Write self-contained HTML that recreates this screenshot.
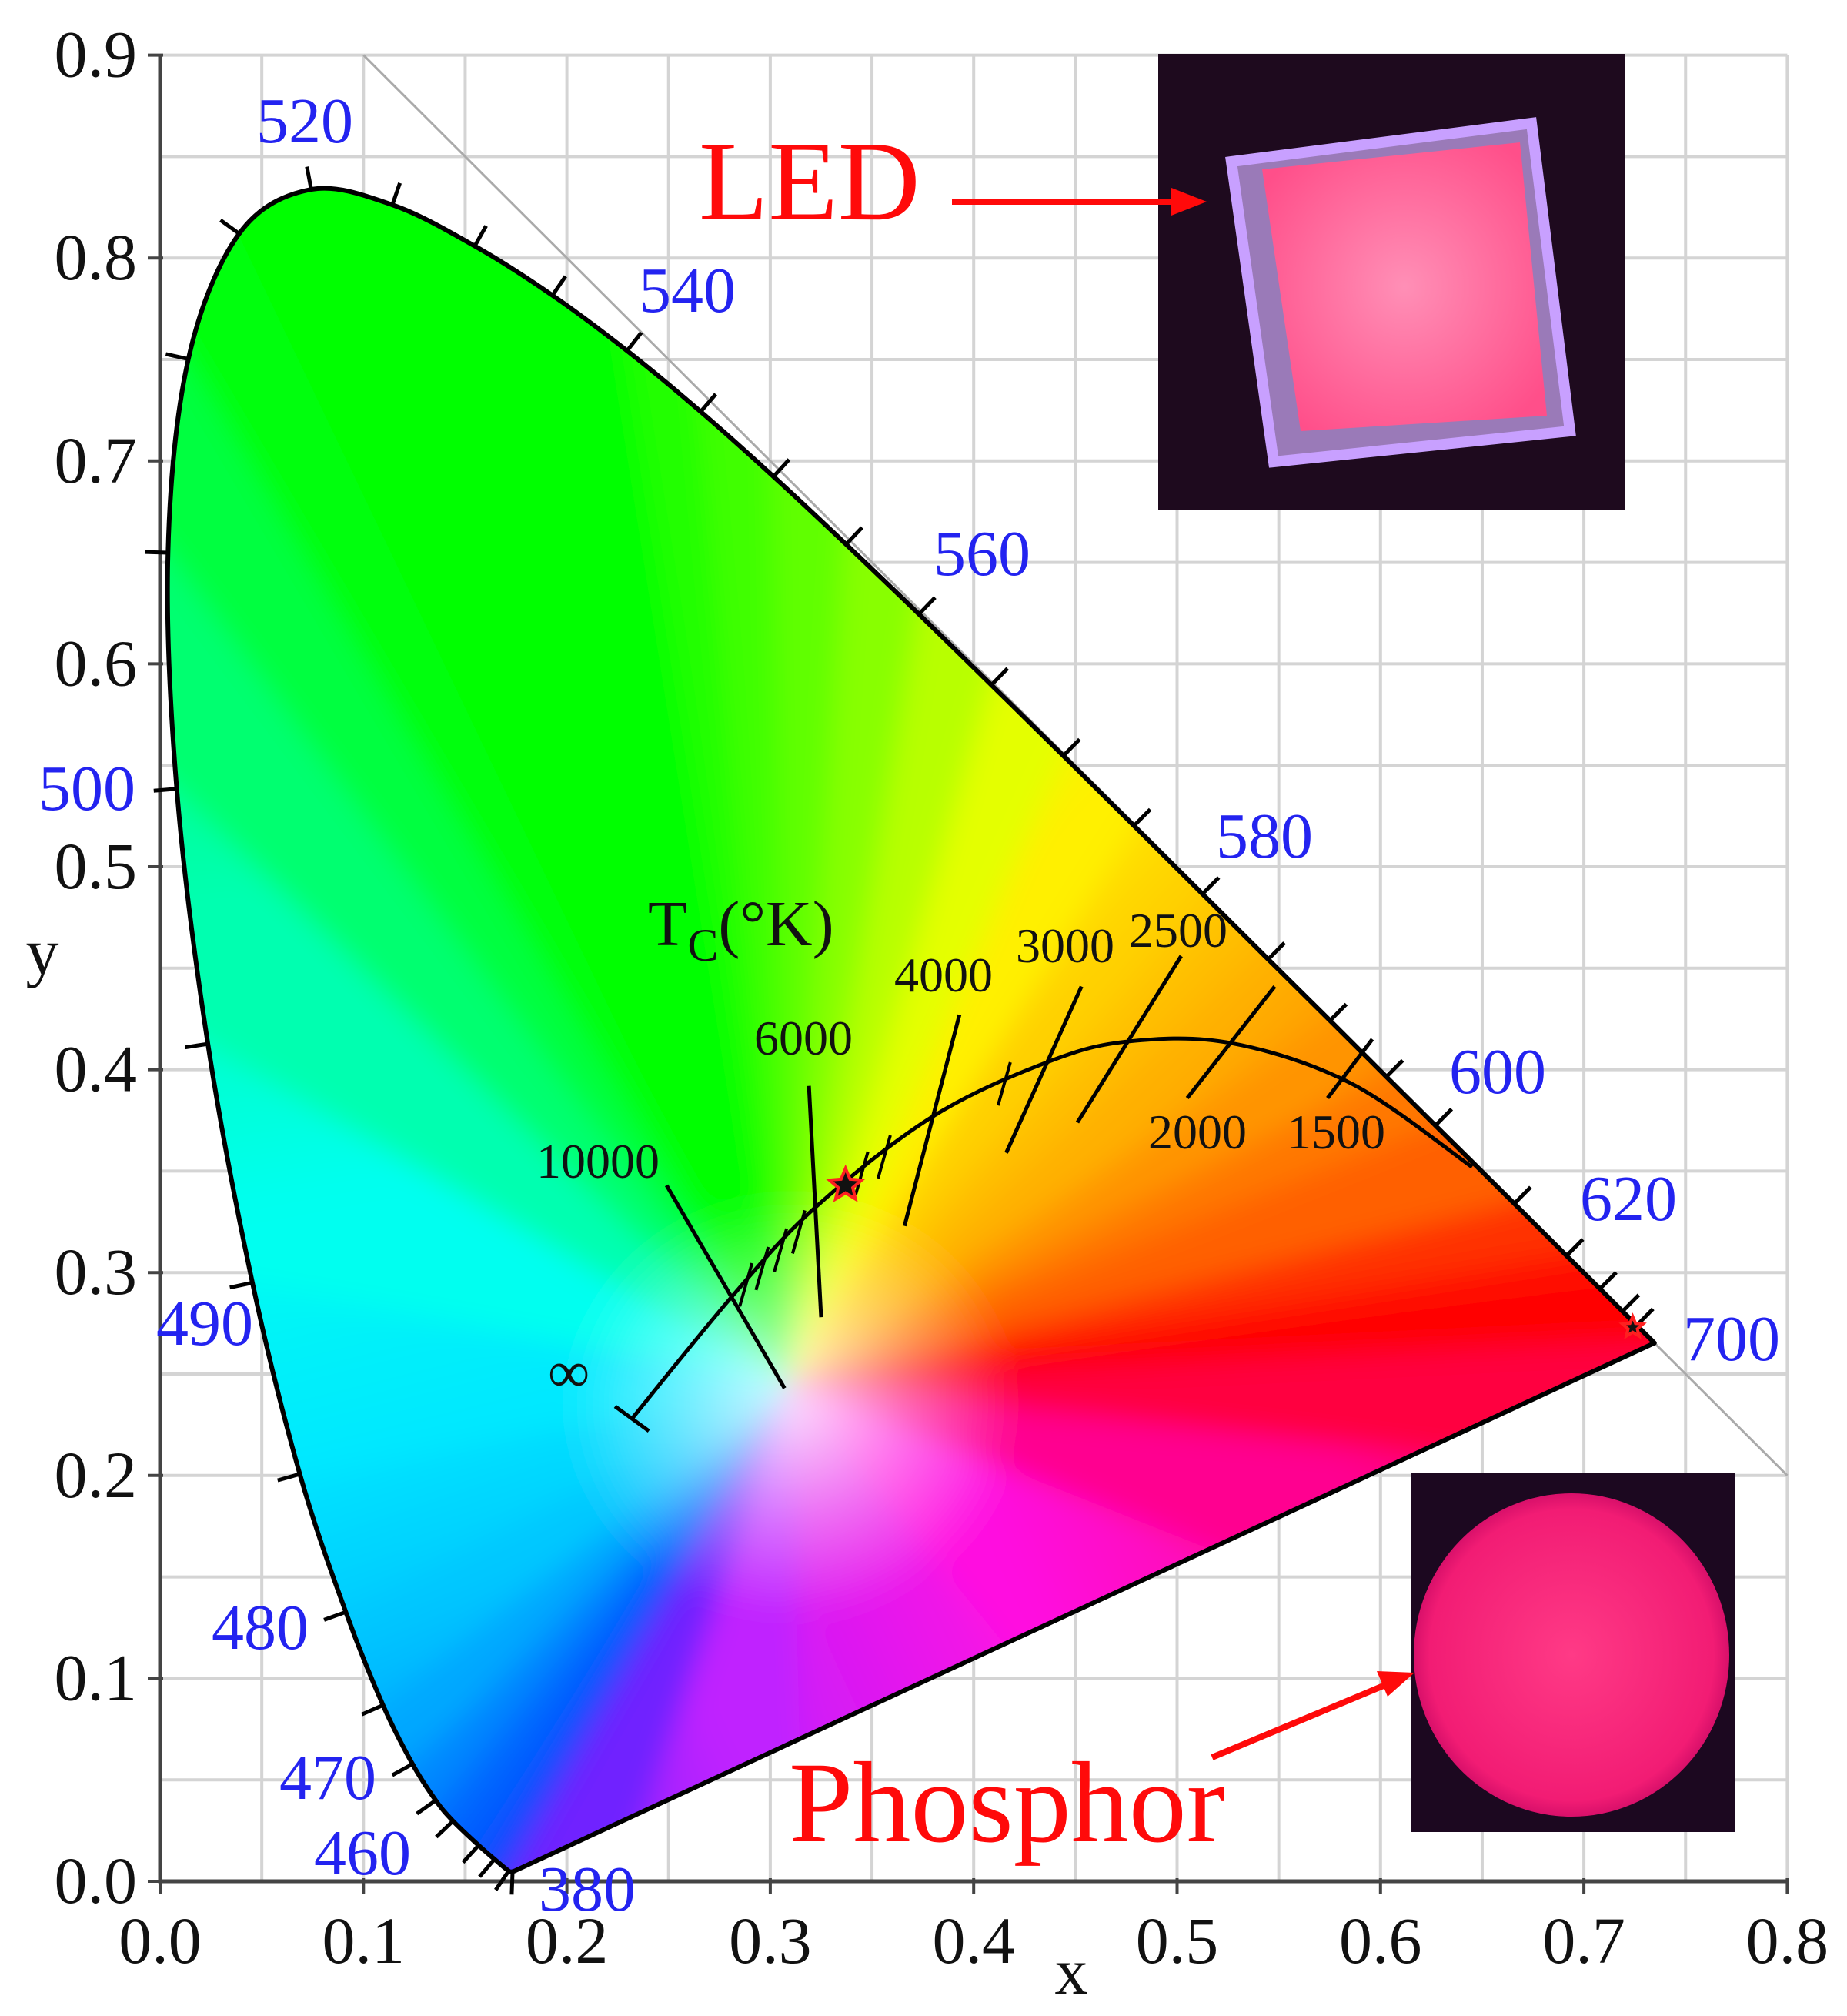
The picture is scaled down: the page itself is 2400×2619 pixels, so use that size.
<!DOCTYPE html>
<html><head><meta charset="utf-8"><style>
html,body{margin:0;padding:0;background:#fff;}
svg{display:block;}
text{font-family:"Liberation Serif",serif;}
</style></head><body>
<svg id="chart" width="2400" height="2619" viewBox="0 0 2400 2619" xmlns="http://www.w3.org/2000/svg">
<defs>
<radialGradient id="whiteGlow" cx="0.5" cy="0.5" r="0.5">
<stop offset="0" stop-color="#fff" stop-opacity="0.85"/>
<stop offset="0.5" stop-color="#fff" stop-opacity="0.4"/>
<stop offset="1" stop-color="#fff" stop-opacity="0"/>
</radialGradient>
<radialGradient id="phGrad" cx="0.5" cy="0.5" r="0.5">
<stop offset="0" stop-color="#ff3a86"/><stop offset="0.9" stop-color="#f21c74"/><stop offset="1" stop-color="#d8106a"/>
</radialGradient>
<radialGradient id="ledGrad" cx="0.5" cy="0.5" r="0.6">
<stop offset="0" stop-color="#ff8fb6"/><stop offset="1" stop-color="#ff4f8a"/>
</radialGradient>
<filter id="soft" x="-10%" y="-10%" width="120%" height="120%"><feGaussianBlur stdDeviation="18"/></filter>
<clipPath id="locusClip"><path id="clipPath"/></clipPath>
</defs>
<g id="grid"></g>
<g clip-path="url(#locusClip)"><g id="gamut" filter="url(#soft)"></g></g>
<g id="overlay"></g>
</svg>
<script>
const NS='http://www.w3.org/2000/svg';
const xTicks=[0.0,0.1,0.2,0.3,0.4,0.5,0.6,0.7,0.8];
const yTicks=[0.0,0.1,0.2,0.3,0.4,0.5,0.6,0.7,0.8,0.9];
const locusNm=[380,400,420,440,450,460,465,470,475,480,485,490,495,500,505,510,515,520,525,530,535,540,545,550,555,560,565,570,575,580,585,590,595,600,610,620,630,640,650,700];
const locusX=[0.1741,0.1733,0.1714,0.1644,0.1566,0.1440,0.1355,0.1241,0.1096,0.0913,0.0687,0.0454,0.0235,0.0082,0.0039,0.0139,0.0389,0.0743,0.1142,0.1547,0.1929,0.2296,0.2658,0.3016,0.3373,0.3731,0.4087,0.4441,0.4788,0.5125,0.5448,0.5752,0.6029,0.6270,0.6658,0.6915,0.7079,0.7190,0.7260,0.7347];
const locusY=[0.0050,0.0048,0.0051,0.0109,0.0177,0.0297,0.0399,0.0578,0.0868,0.1327,0.2007,0.2950,0.4127,0.5384,0.6548,0.7502,0.8120,0.8338,0.8262,0.8059,0.7816,0.7543,0.7243,0.6923,0.6589,0.6245,0.5896,0.5547,0.5202,0.4866,0.4544,0.4242,0.3965,0.3725,0.3340,0.3083,0.2920,0.2809,0.2740,0.2653];
const waveLabels=['520','540','560','580','600','620','700','500','490','480','470','460','380'];
const waveLabelX=[333,830,1213,1580,1883,2053,2187,50,203,275,363,408,700];
const waveLabelY=[185,405,747,1114,1420,1585,1767,1052,1747,2142,2337,2435,2482];
const planckT=['∞','10000','6000','4000','3000','2500','2000','1500','1000'];
const planckX=[0.232,0.281,0.322,0.380,0.437,0.477,0.527,0.586,0.645];
const planckY=[0.228,0.288,0.332,0.377,0.404,0.414,0.413,0.393,0.352];
const isoX1=[0.249,0.319,0.393,0.453,0.502,0.548,0.596];
const isoY1=[0.343,0.392,0.427,0.441,0.456,0.441,0.415];
const isoX2=[0.307,0.325,0.366,0.416,0.451,0.505,0.574];
const isoY2=[0.243,0.278,0.323,0.359,0.374,0.386,0.386];
const isoLabels=['10000','6000','4000','3000','2500','2000','1500'];
const isoLabelX=[697,980,1162,1320,1467,1492,1672];
const isoLabelY=[1530,1370,1288,1250,1230,1492,1492];
const starX=[0.337,0.724];
const starY=[0.343,0.273];

const X=v=>208+v*2643, Y=v=>2444-v*2636;
function el(tag,attrs,parent){const e=document.createElementNS(NS,tag);for(const k in attrs)e.setAttribute(k,attrs[k]);parent.appendChild(e);return e;}
const svg=document.getElementById('chart');
const grid=document.getElementById('grid'), gamut=document.getElementById('gamut'), ov=document.getElementById('overlay');

for(let i=1;i<=16;i++){const v=i*0.05;const l=el('line',{x1:X(v),x2:X(v),y1:Y(0),y2:Y(0.9),stroke:'#d4d4d4','stroke-width':4},grid);

}
for(let i=1;i<=18;i++){const v=i*0.05;const l=el('line',{x1:X(0),x2:X(0.8),y1:Y(v),y2:Y(v),stroke:'#d4d4d4','stroke-width':4},grid);

}
const diag=el('line',{x1:X(0.1),y1:Y(0.9),x2:X(0.8),y2:Y(0.2),stroke:'#aaa','stroke-width':3},grid);



function smooth(xs,ys){let s=`M${X(xs[0])} ${Y(ys[0])}`;const n=xs.length;for(let i=0;i<n-1;i++){const a=Math.max(i-1,0),b=Math.min(i+2,n-1);const p0=[X(xs[a]),Y(ys[a])],p1=[X(xs[i]),Y(ys[i])],p2=[X(xs[i+1]),Y(ys[i+1])],p3=[X(xs[b]),Y(ys[b])];
 s+=`C${p1[0]+(p2[0]-p0[0])/6} ${p1[1]+(p2[1]-p0[1])/6} ${p2[0]-(p3[0]-p1[0])/6} ${p2[1]-(p3[1]-p1[1])/6} ${p2[0]} ${p2[1]}`;}return s;}
const d=smooth(locusX,locusY)+'Z';
document.getElementById('clipPath').setAttribute('d',d);

const colMap={380:'#5a20ff',400:'#4a28ff',420:'#3a30ff',440:'#2040ff',450:'#1050ff',460:'#0060ff',465:'#0070ff',470:'#0088ff',475:'#00a8ff',480:'#00c8ff',485:'#00e8ff',490:'#00fff0',495:'#00ffb0',500:'#00ff70',505:'#00ff40',510:'#00ff10',515:'#00ff00',540:'#00ff00',545:'#20ff00',550:'#40ff00',555:'#60ff00',560:'#88ff00',565:'#b8ff00',570:'#e4ff00',575:'#fff000',580:'#ffd000',585:'#ffb000',590:'#ff9400',595:'#ff7800',600:'#ff6000',610:'#ff3000',620:'#ff1000',630:'#ff0000',700:'#ff0000'};
function colOf(nm){let k=Object.keys(colMap).map(Number).sort((a,b)=>a-b);let c=k[0];for(const kk of k){if(kk<=nm)c=kk;}return colMap[c];}
const ptsX=locusX.slice(), ptsY=locusY.slice(), cols=locusNm.map(colOf);
const purpT=[0.15,0.35,0.55,0.75,0.9], purpC=['#ff0040','#ff0090','#ff10e0','#c020ff','#7020ff'];
purpT.forEach((t,i)=>{ptsX.push(0.7347+(0.1741-0.7347)*t);ptsY.push(0.2653+(0.005-0.2653)*t-0.02);cols.push(purpC[i]);});
const cx=X(0.31), cy=Y(0.245);
const gdefs=svg.querySelector('defs');
for(let i=0;i<ptsX.length;i++){const j=(i+1)%ptsX.length;
 const x1=X(ptsX[i]),y1=Y(ptsY[i]),x2=X(ptsX[j]),y2=Y(ptsY[j]);
 const ex=(x,y)=>[cx+(x-cx)*1.35,cy+(y-cy)*1.35];
 const a=ex(x1,y1),b=ex(x2,y2);
 const gid='lg'+i;const lg=el('linearGradient',{id:gid,gradientUnits:'userSpaceOnUse',x1:a[0],y1:a[1],x2:b[0],y2:b[1]},gdefs);
 el('stop',{offset:0,'stop-color':cols[i]},lg);el('stop',{offset:1,'stop-color':cols[j]},lg);
 const p=el('polygon',{points:`${cx},${cy} ${a[0]},${a[1]} ${b[0]},${b[1]}`,fill:`url(#${gid})`,stroke:`url(#${gid})`,'stroke-width':3},gamut);
 
 }
const glow=el('ellipse',{cx:X(0.31),cy:Y(0.235),rx:300,ry:280,fill:'url(#whiteGlow)'},gamut);



const ax=el('path',{d:`M${X(0)} ${Y(0.9)}V${Y(0)}H${X(0.8)}`,fill:'none',stroke:'#444','stroke-width':5},ov);


xTicks.forEach(v=>{el('line',{x1:X(v),x2:X(v),y1:Y(0)-4,y2:Y(0)+16,stroke:'#444','stroke-width':4},ov);
 const t=el('text',{x:X(v),y:2550,'font-size':86,'text-anchor':'middle',fill:'#111'},ov);t.textContent=v.toFixed(1);
 
 });
yTicks.forEach(v=>{el('line',{x1:X(0)-16,x2:X(0)+4,y1:Y(v),y2:Y(v),stroke:'#444','stroke-width':4},ov);
 const t=el('text',{x:178,y:Y(v)+28,'font-size':86,'text-anchor':'end',fill:'#111'},ov);t.textContent=v.toFixed(1);
 
 });
const xt=el('text',{x:1392,y:2590,'font-size':86,'text-anchor':'middle',fill:'#111'},ov);xt.textContent='x';


const yt=el('text',{x:55,y:1265,'font-size':86,'text-anchor':'middle',fill:'#111'},ov);yt.textContent='y';



const lo=el('path',{d:d,fill:'none',stroke:'#000','stroke-width':6,'stroke-linejoin':'round'},ov);


for(let i=1;i<locusX.length-1;i++){
 const dx=X(locusX[i+1])-X(locusX[i-1]), dy=Y(locusY[i+1])-Y(locusY[i-1]);const L=Math.hypot(dx,dy)||1;
 let nx=dy/L, ny=-dx/L;
 const px=X(locusX[i]),py=Y(locusY[i]);
 if((px-cx)*nx+(py-cy)*ny<0){nx=-nx;ny=-ny;}
 const tk=el('line',{x1:px,y1:py,x2:px+nx*30,y2:py+ny*30,stroke:'#000','stroke-width':5},ov);
 
 }
waveLabels.forEach((s,i)=>{const t=el('text',{x:waveLabelX[i],y:waveLabelY[i],'font-size':84,fill:'#2323f0'},ov);t.textContent=s;
 
 });

const pl=el('path',{d:smooth(planckX,planckY),fill:'none',stroke:'#000','stroke-width':5},ov);


{const x=X(planckX[0]),y=Y(planckY[0]);const b=el('line',{x1:x-22,y1:y-16,x2:x+22,y2:y+16,stroke:'#000','stroke-width':5},ov);
 
 }
isoX1.forEach((x,i)=>{const l=el('line',{x1:X(x),y1:Y(isoY1[i]),x2:X(isoX2[i]),y2:Y(isoY2[i]),stroke:'#000','stroke-width':5},ov);
 
 
 const t=el('text',{x:isoLabelX[i],y:isoLabelY[i],'font-size':64,fill:'#111'},ov);t.textContent=isoLabels[i];
 
 });
const minorX=[0.288,0.296,0.305,0.314,0.345,0.356,0.415];
const minorY=[0.294,0.302,0.311,0.320,0.349,0.357,0.393];
minorX.forEach((x,i)=>{const m=el('line',{x1:X(x)+8,y1:Y(minorY[i])-28,x2:X(x)-8,y2:Y(minorY[i])+28,stroke:'#000','stroke-width':4},ov);
 
 });
const inf=el('text',{x:712,y:1808,'font-size':76,fill:'#111'},ov);inf.textContent='∞';


const tc=el('text',{x:842,y:1228,'font-size':84,fill:'#111'},ov);tc.innerHTML='T<tspan font-size="60" dy="20">C</tspan><tspan dy="-20">(°K)</tspan>';


starX.forEach((x,i)=>{const sx=X(x),sy=Y(starY[i]);const r=i?14:22;let p='';for(let k=0;k<10;k++){const a=-Math.PI/2+k*Math.PI/5;const rr=k%2?r*0.45:r;p+=(sx+rr*Math.cos(a))+','+(sy+rr*Math.sin(a))+' ';}
 const s=el('polygon',{points:p,fill:'#111',stroke:'#ff2020','stroke-width':4},ov);
 
 });

const ledG=el('g',{},ov);


el('rect',{x:1505,y:70,width:607,height:592,fill:'#1e0a1e'},ledG);
el('polygon',{points:'1600,210 1990,160 2040,560 1655,600',fill:'#9a7ab8',stroke:'#c8a0ff','stroke-width':14},ledG);
el('polygon',{points:'1640,220 1975,185 2010,540 1690,560',fill:'url(#ledGrad)'},ledG);
const ledT=el('text',{x:908,y:285,'font-size':148,fill:'#ff0a0a'},ov);ledT.textContent='LED';


const a1=el('path',{d:'M1237 262H1530',stroke:'#ff0a0a','stroke-width':8,fill:'none'},ov);


el('polygon',{points:'1568,262 1522,244 1522,280',fill:'#ff0a0a'},ov);

const phG=el('g',{},ov);


el('rect',{x:1833,y:1913,width:422,height:467,fill:'#1c0820'},phG);
el('ellipse',{cx:2042,cy:2150,rx:205,ry:210,fill:'url(#phGrad)'},phG);
const phT=el('text',{x:1025,y:2392,'font-size':150,fill:'#ff0a0a'},ov);phT.textContent='Phosphor';


const a2=el('line',{x1:1575,y1:2283,x2:1800,y2:2189,stroke:'#ff0a0a','stroke-width':8},ov);


el('polygon',{points:'1838,2173 1789,2171 1803,2204',fill:'#ff0a0a'},ov);
</script>
</body></html>
